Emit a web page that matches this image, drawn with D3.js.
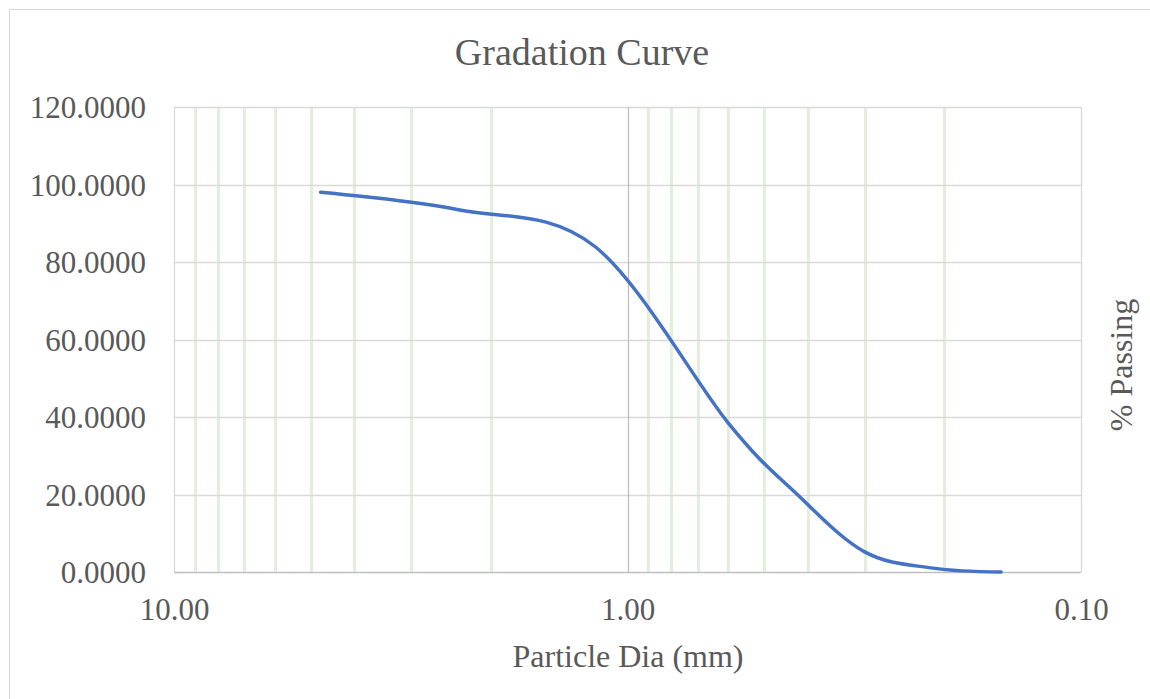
<!DOCTYPE html>
<html>
<head>
<meta charset="utf-8">
<title>Gradation Curve</title>
<script src="https://d3js.org/d3.v7.min.js"></script>
<style>
	body { margin: 0; background: #fff; }
	text { font-family: "Liberation Serif", "Times New Roman", serif; fill: #595959; }
</style>
</head>
<body>
<script>
// sieve sizes (mm) and % passing
var sieveSizes = [4.75, 2.36, 1.18, 0.6, 0.425, 0.3, 0.212, 0.15];
var percentPassing = [98.0, 93.5, 84.0, 38.5, 20.3, 5.2, 1.0, 0.0];

// axis ticks
var xTicks = [10, 1, 0.1];
var xMinor = [9, 8, 7, 6, 5, 4, 3, 2, 0.9, 0.8, 0.7, 0.6, 0.5, 0.4, 0.3, 0.2];
var yTicks = [0, 20, 40, 60, 80, 100, 120];

var width = 1150,
	height = 699;

var plot = { left: 174, right: 1081, top: 107, bottom: 572 };

var svg = d3.select("body")
			.append("svg")
			.attr("width", width)
			.attr("height", height);

// chart border (runs off the bottom / right of the window)
svg.append("rect")
	.attr("x", 9.5)
	.attr("y", 9.5)
	.attr("width", 1300)
	.attr("height", 1000)
	.attr("fill", "none")
	.attr("stroke", "#d9d9d9");

// reversed log scale: coarse on the left
var x = d3.scaleLog()
	.domain([10, 0.1])
	.range([plot.left, plot.right]);

var y = d3.scaleLinear()
	.domain([0, 120])
	.range([plot.bottom, plot.top]);

// minor vertical gridlines (green)
svg.append("g").selectAll("line")
	.data(xMinor)
	.enter()
	.append("line")
	.attr("x1", function(d) { return Math.round(x(d)) + 0.5; })
	.attr("x2", function(d) { return Math.round(x(d)) + 0.5; })
	.attr("y1", plot.top)
	.attr("y2", plot.bottom)
	.attr("stroke", "#e2efda")
	.attr("stroke-width", 3);

// horizontal gridlines
svg.append("g").selectAll("line")
	.data(yTicks.slice(1))
	.enter()
	.append("line")
	.attr("x1", plot.left)
	.attr("x2", plot.right)
	.attr("y1", function(d) { return Math.round(y(d)) + 0.5; })
	.attr("y2", function(d) { return Math.round(y(d)) + 0.5; })
	.attr("stroke", "#d9d9d9")
	.attr("stroke-width", 1.3);

// major vertical gridlines
svg.append("g").selectAll("line")
	.data(xTicks)
	.enter()
	.append("line")
	.attr("x1", function(d) { return Math.round(x(d)) + 0.5; })
	.attr("x2", function(d) { return Math.round(x(d)) + 0.5; })
	.attr("y1", plot.top)
	.attr("y2", plot.bottom)
	.attr("stroke", function(d) { return d === 1 ? "#bfbfbf" : "#d9d9d9"; })
	.attr("stroke-width", 1.3);

// bottom axis line
svg.append("line")
	.attr("x1", plot.left)
	.attr("x2", plot.right)
	.attr("y1", y(0) + 0.5)
	.attr("y2", y(0) + 0.5)
	.attr("stroke", "#bfbfbf")
	.attr("stroke-width", 1.3);

// x axis labels
var xAxis = d3.axisBottom(x)
	.tickValues(xTicks)
	.tickFormat(d3.format(".2f"))
	.tickSize(0)
	.tickPadding(0);

var gx = svg.append("g")
	.attr("transform", "translate(0," + plot.bottom + ")")
	.call(xAxis);
gx.select(".domain").remove();
gx.selectAll("text")
	.attr("dy", null)
	.attr("y", 48)
	.style("font-size", "31px")
	.style("font-family", "Liberation Serif")
	.style("fill", "#595959");

// y axis labels
var yAxis = d3.axisLeft(y)
	.tickValues(yTicks)
	.tickFormat(d3.format(".4f"))
	.tickSize(0)
	.tickPadding(28);

var gy = svg.append("g")
	.attr("transform", "translate(" + plot.left + ",0)")
	.call(yAxis);
gy.select(".domain").remove();
gy.selectAll("text")
	.attr("dy", "0.34em")
	.style("font-size", "31px")
	.style("font-family", "Liberation Serif")
	.style("fill", "#595959");

// the gradation curve (smoothed like Excel)
var line = d3.line()
	.x(function(d) { return x(d[0]); })
	.y(function(d) { return y(d[1]); })
	.curve(d3.curveCardinal.tension(0));

svg.append("path")
	.datum(d3.zip(sieveSizes, percentPassing))
	.attr("d", line)
	.attr("fill", "none")
	.attr("stroke", "#4472c4")
	.attr("stroke-width", 3.5)
	.attr("stroke-linecap", "round");

// titles
svg.append("text")
	.attr("x", 582)
	.attr("y", 65)
	.attr("text-anchor", "middle")
	.style("font-size", "38px")
	.text("Gradation Curve");

svg.append("text")
	.attr("x", 628)
	.attr("y", 667)
	.attr("text-anchor", "middle")
	.style("font-size", "32px")
	.text("Particle Dia (mm)");

svg.append("text")
	.attr("transform", "translate(1132,365) rotate(-90)")
	.attr("text-anchor", "middle")
	.style("font-size", "32px")
	.text("% Passing");
</script>
</body>
</html>
